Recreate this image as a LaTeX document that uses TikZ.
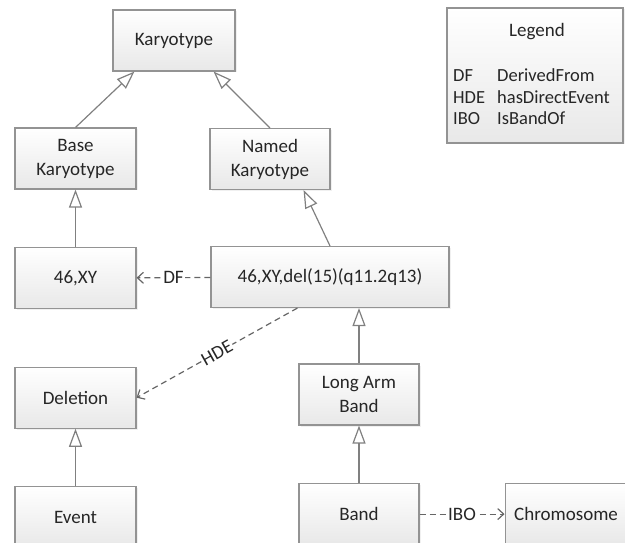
\documentclass[tikz,border=0pt]{standalone}
\usepackage{fontspec}
\setmainfont{Carlito}
\usetikzlibrary{arrows.meta,positioning,shadows}

\begin{document}
\begin{tikzpicture}[
    x = 1pt, y = -1pt, % pixel-like units, y grows downwards
    node distance = 57.5pt, % gap between stacked boxes
    font = \fontsize{19}{24}\selectfont,
    text = black!85
    ]

    \tikzset{
    box/.style = {draw = gray!85, line width = 1.1pt,
        top color = white, bottom color = gray!18,
        minimum width = 121pt, minimum height = 61pt,
        align = center, inner sep = 2pt,
        drop shadow = {opacity = 0.12, shadow xshift = 1.5pt, shadow yshift = -1.5pt}},
    isa/.style = {draw = gray, line width = 1.2pt,
        arrows = {-{Triangle[open, length=18pt, width=13pt, fill=white]}}},
    rel/.style = {draw = gray!80!black, line width = 1.2pt,
        dash pattern = on 6pt off 4pt,
        arrows = {-{Straight Barb[length=6pt, width=11pt]}}},
    lbl/.style = {fill = white, text = black!85, inner sep = 1pt}
    }

    \useasboundingbox (0,0) rectangle (625,543);
    \clip (0,0) rectangle (625,543);

    % classes
    \node[box, minimum width = 122pt] (kary) at (174,40.5) {Karyotype};
    \node[box] (base) at (75.5,158.5) {Base\\Karyotype};
    \node[box, minimum width = 120pt] (named) at (270,159) {Named\\Karyotype};
    \node[box] (xy) [below=of base] {46,XY};
    \node[box, minimum width = 238pt] (del) at (330,277) {46,XY,del(15)(q11.2q13)};
    \node[box] (deletion) [below=of xy] {Deletion};
    \node[box, minimum width = 120pt] (lab) at (359,394.5) {Long Arm\\Band};
    \node[box] (event) [below=of deletion] {Event};
    \node[box, minimum width = 120pt] (band) [below=of lab] {Band};
    \node[box, minimum width = 122pt] (chrom) [right=85pt of band] {Chromosome};

    % legend
    \node[box, minimum width = 176pt, minimum height = 135pt] (legend) at (535,75.5) {};
    \node[anchor=base] (legtitle) at (537,37) {Legend};
    \node[anchor=base west, inner sep = 0pt] (legtext) at (453,82) {%
        \fontsize{18.5}{21.5}\selectfont
        \begin{tabular}[t]{@{}p{44pt}@{}l@{}}
        DF  & DerivedFrom \\
        HDE & hasDirectEvent \\
        IBO & IsBandOf
        \end{tabular}};

    % is-a links
    \draw[isa] (base.north) -- ([xshift=22pt]kary.south west);
    \draw[isa] (named.north) -- ([xshift=-22pt]kary.south east);
    \draw[isa] (xy) -- (base);
    \draw[isa] (del.north) -- ([xshift=-27pt]named.south east);
    \draw[isa] (lab.north) -- (lab.north |- del.south);
    \draw[isa] (event) -- (deletion);
    \draw[isa] (band) -- (lab);

    % relations
    \draw[rel] (del) -- node[lbl]{DF} (xy);
    \draw[rel] ([xshift=87pt]del.south west) -- node[lbl, sloped]{HDE} (deletion.east);
    \draw[rel] (band) -- node[lbl]{IBO} (chrom);
\end{tikzpicture}
\end{document}
